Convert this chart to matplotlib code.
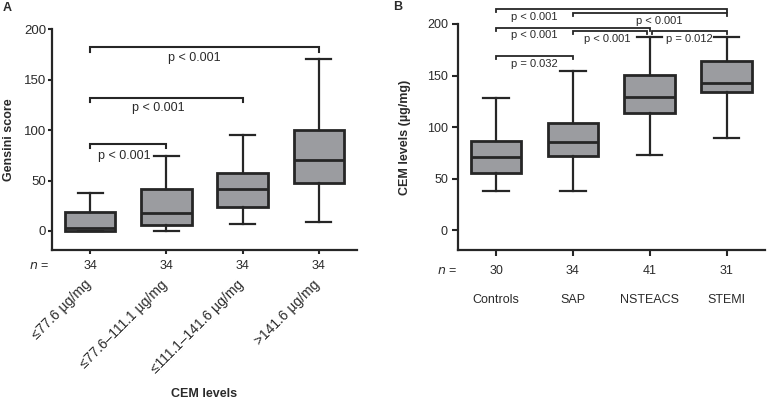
import matplotlib
matplotlib.use("Agg")
import matplotlib.pyplot as plt
from matplotlib.transforms import ScaledTranslation

plt.rcParams['font.family'] = ['Liberation Sans', 'DejaVu Sans']

# ---------- Panel A data ----------
a_labels = ["≤77.6 µg/mg", "≤77.6–111.1 µg/mg", "≤111.1–141.6 µg/mg", ">141.6 µg/mg"]
a_n = [34, 34, 34, 34]
a_whislo = [0, 0, 7, 9]
a_q1 = [0, 6, 24, 48]
a_med = [3, 18, 42, 70]
a_q3 = [19, 42, 57, 100]
a_whishi = [38, 74, 95, 171]
# brackets: (start group, end group, bar y, text x, text y, text)
a_brackets = [(1, 4, 182.5, 2.37, 171.5, "p < 0.001"),
              (1, 3, 132, 1.90, 122, "p < 0.001"),
              (1, 2, 86.5, 1.45, 74.5, "p < 0.001")]

# ---------- Panel B data ----------
b_labels = ["Controls", "SAP", "NSTEACS", "STEMI"]
b_n = [30, 34, 41, 31]
b_whislo = [38.5, 38.5, 73.5, 89.5]
b_q1 = [55.5, 72.5, 113.5, 134]
b_med = [71, 86, 129, 142.5]
b_q3 = [87, 104.5, 150.5, 164]
b_whishi = [128.5, 154, 187.5, 187]
b_brackets = [(1, 4, 214.3),
              (2, 4, 210.4),
              (1, 3, 196.4),
              (2, 2.97, 193.5),
              (3.03, 4, 193.5),
              (1, 2, 169)]
b_texts = [(1.49, 206.5, "p < 0.001"),
           (3.12, 203, "p < 0.001"),
           (1.49, 189.6, "p < 0.001"),
           (2.45, 185.5, "p < 0.001"),
           (3.52, 185.5, "p = 0.012"),
           (1.50, 161.2, "p = 0.032")]

BOX_FACE = "#9b9ca0"
EDGE = "#262626"
TXT = "#2a2a2a"

fig = plt.figure(figsize=(7.69, 4.01), dpi=100)
axA = fig.add_axes([52/769, 1-250/401, 305/769, 220.5/401])
axB = fig.add_axes([457.7/769, 1-250/401, 307.3/769, 226/401])


def draw_boxes(ax, whislo, q1, med, q3, whishi):
    stats = []
    for i in range(len(med)):
        stats.append(dict(whislo=whislo[i], q1=q1[i], med=med[i], q3=q3[i],
                          whishi=whishi[i], fliers=[]))
    ax.bxp(stats, positions=range(1, len(med)+1), widths=0.66, capwidths=0.33,
           patch_artist=True, showfliers=False,
           boxprops=dict(facecolor=BOX_FACE, edgecolor=EDGE, linewidth=2.0),
           medianprops=dict(color=EDGE, linewidth=2.0),
           whiskerprops=dict(color=EDGE, linewidth=1.6),
           capprops=dict(color=EDGE, linewidth=1.6))


def style_axes(ax, ticksize, ticklen, pad):
    for s in ["top", "right"]:
        ax.spines[s].set_visible(False)
    for s in ["left", "bottom"]:
        ax.spines[s].set_linewidth(1.6)
        ax.spines[s].set_color(EDGE)
    ax.tick_params(axis="both", length=ticklen, width=1.5, color=EDGE,
                   labelcolor=TXT, labelsize=ticksize, direction="out")
    ax.tick_params(axis="y", pad=pad)
    ax.set_xlim(0.5, 4.5)
    ax.set_ylim(-19, 200)
    ax.set_yticks([0, 50, 100, 150, 200])


def bracket(ax, x1, x2, y, drop, lw=1.5):
    ax.plot([x1, x1, x2, x2], [y - drop, y, y, y - drop], color=EDGE,
            lw=lw, clip_on=False, solid_joinstyle="miter")


# ---------- Panel A ----------
draw_boxes(axA, a_whislo, a_q1, a_med, a_q3, a_whishi)
style_axes(axA, 9.5, 3, 1.2)
axA.set_xticks(range(1, 5))
axA.set_xticklabels(a_labels, rotation=45, ha="right", fontsize=10)
axA.tick_params(axis="x", pad=19)
for lab in axA.get_xticklabels():
    lab.set_transform(lab.get_transform() +
                      ScaledTranslation(4/100, 3/100, fig.dpi_scale_trans))
for x1, x2, y, tx, ty, t in a_brackets:
    bracket(axA, x1, x2, y, 4.5)
    axA.text(tx, ty, t, ha="center", va="center", fontsize=9, color=TXT)
for i, n in enumerate(a_n):
    axA.text(i + 1, -16/220.5, str(n), transform=axA.get_xaxis_transform(),
             ha="center", va="center", fontsize=9, color=TXT)
axA.text(-3/305, -16/220.5, "$n$ =", transform=axA.transAxes, ha="right",
         va="center", fontsize=9, color=TXT)
axA.set_ylabel("Gensini score", fontsize=9, fontweight="bold", color=TXT, va="center")
axA.yaxis.set_label_coords(-43/305, 0.5)
axA.set_xlabel("CEM levels", fontsize=9, fontweight="bold", color=TXT, va="center")
axA.xaxis.set_label_coords(0.5, -144/220.5)

# ---------- Panel B ----------
draw_boxes(axB, b_whislo, b_q1, b_med, b_q3, b_whishi)
style_axes(axB, 9, 4.5, 2.5)
axB.set_xticks(range(1, 5))
axB.set_xticklabels(b_labels, fontsize=9)
axB.tick_params(axis="x", pad=27)
for x1, x2, y in b_brackets:
    bracket(axB, x1, x2, y, 2.8, lw=1.3)
for tx, ty, t in b_texts:
    axB.text(tx, ty, t, ha="center", va="center", fontsize=8, color=TXT)
for i, n in enumerate(b_n):
    axB.text(i + 1, -20.7/226, str(n), transform=axB.get_xaxis_transform(),
             ha="center", va="center", fontsize=9, color=TXT)
axB.text(-1/307, -20.7/226, "$n$ =", transform=axB.transAxes, ha="right",
         va="center", fontsize=9, color=TXT)
axB.set_ylabel("CEM levels (µg/mg)", fontsize=9, fontweight="bold", color=TXT, va="center")
axB.yaxis.set_label_coords(-52.7/307.3, 0.5)

fig.text(3/769, 1-8/401, "A", fontsize=9, fontweight="bold", ha="left", va="center", color=TXT)
fig.text(393/769, 1-7.5/401, "B", fontsize=9, fontweight="bold", ha="left", va="center", color=TXT)

fig.savefig("out.png", dpi=100)
